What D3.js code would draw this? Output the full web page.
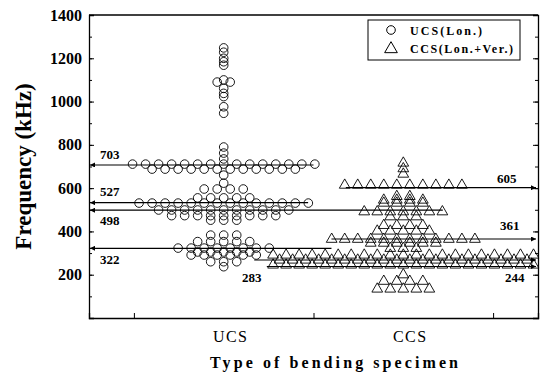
<!DOCTYPE html>
<html>
<head>
<meta charset="utf-8">
<script src="https://cdn.jsdelivr.net/npm/d3@7"></script>
<style>
  body { margin: 0; background: #fff; }
  svg { display: block; font-family: "Liberation Serif", "DejaVu Serif", serif; }
</style>
</head>
<body>
<svg id="chart" width="541" height="374"></svg>
<script>
// categories on the x axis (positions 1 and 2)
const categories = ["UCS", "CCS"]
const yTicks = [200, 400, 600, 800, 1000, 1200, 1400]

// UCS (circles): each row = frequency (kHz) and number of specimens in that row
const ucsFreq  = [1248, 1228, 1200, 1184, 1168, 1100, 1090, 1061, 1038, 1023, 976, 946,
                  790, 762, 735, 711, 688, 660, 623, 596, 555, 531, 499, 473, 452,
                  383, 353, 323, 305, 291, 260, 237]
const ucsCount = [1, 1, 1, 1, 1, 1, 2, 1, 1, 1, 1, 1,
                  1, 1, 1, 15, 12, 1, 1, 4, 5, 14, 11, 9, 3,
                  3, 5, 8, 5, 6, 3, 1]

// CCS (triangles)
const ccsFreq  = [716, 690, 665, 614, 562, 545, 531, 491, 468, 428, 402, 364, 346, 322,
                  291, 268, 245, 200, 170, 134]
const ccsCount = [1, 1, 1, 10, 2, 4, 4, 7, 3, 4, 5, 12, 6, 3,
                  21, 20, 21, 1, 4, 5]

// marked reference values (label, drawn level, start, end in category units)
const refLabels = ["703", "527", "498", "322", "283", "605", "361", "244"]
const refLevel  = [707, 533, 498, 322, 268, 602, 365, 238]
const refFrom   = [0.25, 0.25, 0.25, 0.25, 1.17, 1.68, 1.6, 1.24]
const refTo     = [1.5, 1.47, 2.22, 1.6, 2.75, 2.75, 2.75, 2.75]

const step = 0.0725   // horizontal gap between neighbours in a row (category units)

const svg = d3.select("#chart")
const width = 541, height = 374
const margin = {top: 15, right: 3, bottom: 56, left: 89}

let x = d3.scaleLinear()
    .domain([0.25, 2.75])
    .range([margin.left, width - margin.right])
let y = d3.scaleLinear()
    .domain([0, 1400])
    .range([height - margin.bottom, margin.top])

// expand rows to single points
function rowsToPoints(freqs, counts, center) {
    let pts = []
    freqs.forEach((f, r) => {
        let n = counts[r]
        for (let i = 0; i < n; i++) {
            pts.push({f: f, c: center + (i - (n - 1) / 2) * step})
        }
    })
    return pts
}
let ucsPts = rowsToPoints(ucsFreq, ucsCount, 1)
let ccsPts = rowsToPoints(ccsFreq, ccsCount, 2)

// arrow marker
let defs = svg.append("defs")
defs.append("marker")
    .attr("id", "arr")
    .attr("viewBox", "0 0 10 10")
    .attr("refX", 10).attr("refY", 5)
    .attr("markerWidth", 6).attr("markerHeight", 5)
    .attr("markerUnits", "userSpaceOnUse")
    .attr("orient", "auto")
    .append("path")
    .attr("d", "M0,0 L10,5 L0,10 Z")
    .attr("fill", "#000")

// axes
let yAxisL = d3.axisLeft(y).tickValues(yTicks).tickSize(-5).tickPadding(7).tickFormat(d3.format("d"))
let yMinor = d3.range(100, 1400, 100)
let gy = svg.append("g")
    .attr("transform", `translate(${margin.left},0)`)
    .call(yAxisL)
gy.selectAll(".tick text")
    .attr("font-size", 16).attr("font-weight", "bold")
    .attr("font-family", "Liberation Serif")
gy.select(".domain").attr("stroke-width", 1.3)

svg.append("g")
    .attr("transform", `translate(${margin.left},0)`)
    .call(d3.axisLeft(y).tickValues(yMinor).tickSize(-3).tickFormat(""))
    .call(g => g.select(".domain").remove())

svg.append("g")
    .attr("transform", `translate(${width - margin.right},0)`)
    .call(d3.axisRight(y).tickValues(yTicks).tickSize(-5).tickFormat(""))
    .call(g => g.select(".domain").attr("stroke-width", 1.3))
svg.append("g")
    .attr("transform", `translate(${width - margin.right},0)`)
    .call(d3.axisRight(y).tickValues(yMinor).tickSize(-3).tickFormat(""))
    .call(g => g.select(".domain").remove())

let gx = svg.append("g")
    .attr("transform", `translate(0,${height - margin.bottom})`)
    .call(d3.axisBottom(x).tickValues([0.5, 1.5, 2.5]).tickSize(-5).tickFormat(""))
gx.select(".domain").attr("stroke-width", 1.3)

// category labels
svg.append("g")
    .selectAll("text")
    .data(categories)
    .join("text")
    .attr("x", (d, i) => x(i + 1) + 7)
    .attr("y", height - margin.bottom + 24)
    .attr("text-anchor", "middle")
    .attr("font-size", 16)
    .attr("letter-spacing", 1.5)
    .text(d => d)

// top frame line
svg.append("line")
    .attr("x1", x(0.25)).attr("x2", x(2.75))
    .attr("y1", y(1400)).attr("y2", y(1400))
    .attr("stroke", "#000").attr("stroke-width", 1.3)

// reference lines with arrows
let refs = refLabels.map((l, i) => ({label: l, lvl: refLevel[i], from: refFrom[i], to: refTo[i], left: refFrom[i] <= 0.25}))
svg.append("g")
    .selectAll("line")
    .data(refs)
    .join("line")
    .attr("x1", d => d.left ? x(d.to) : x(d.from))
    .attr("x2", d => d.left ? x(d.from) + 1 : x(d.to) - 2)
    .attr("y1", d => y(d.lvl))
    .attr("y2", d => y(d.lvl))
    .attr("stroke", "#000")
    .attr("stroke-width", 1.2)
    .attr("marker-end", "url(#arr)")

// reference labels
let labelPos = {
    "703": [100, -6], "527": [100, -7], "498": [100, 15], "322": [100, 16],
    "283": [242, 22], "605": [497, -5], "361": [500, -9], "244": [505, 16]
}
svg.append("g")
    .attr("font-size", 13)
    .attr("font-weight", "bold")
    .selectAll("text")
    .data(refs)
    .join("text")
    .attr("x", d => labelPos[d.label][0])
    .attr("y", d => y(d.lvl) + labelPos[d.label][1])
    .text(d => d.label)

// UCS circles
svg.append("g")
    .selectAll("circle")
    .data(ucsPts)
    .join("circle")
    .attr("cx", d => x(d.c))
    .attr("cy", d => y(d.f))
    .attr("r", 4.3)
    .attr("fill", "none")
    .attr("stroke", "#000")
    .attr("stroke-width", 0.9)

// CCS triangles
let tri = d3.symbol(d3.symbolTriangle, 50)
svg.append("g")
    .selectAll("path")
    .data(ccsPts)
    .join("path")
    .attr("transform", d => `translate(${x(d.c)},${y(d.f)})`)
    .attr("d", tri)
    .attr("fill", "none")
    .attr("stroke", "#000")
    .attr("stroke-width", 0.9)

// axis titles
svg.append("text")
    .attr("transform", `translate(31,${(margin.top + height - margin.bottom) / 2}) rotate(-90)`)
    .attr("text-anchor", "middle")
    .attr("font-size", 23)
    .attr("font-weight", "bold")
    .text("Frequency (kHz)")

svg.append("text")
    .attr("x", 210)
    .attr("y", 368)
    .attr("font-size", 16)
    .attr("font-weight", "bold")
    .attr("textLength", 248)
    .attr("lengthAdjust", "spacing")
    .text("Type of bending specimen")

// legend
let leg = svg.append("g")
leg.append("rect")
    .attr("x", 368).attr("y", 20)
    .attr("width", 152).attr("height", 40)
    .attr("fill", "#fff").attr("stroke", "#000").attr("stroke-width", 1)
leg.append("circle")
    .attr("cx", 391).attr("cy", 30).attr("r", 4.3)
    .attr("fill", "none").attr("stroke", "#000")
leg.append("path")
    .attr("transform", "translate(391,49)")
    .attr("d", d3.symbol(d3.symbolTriangle, 70))
    .attr("fill", "none").attr("stroke", "#000")
leg.append("text")
    .attr("x", 410).attr("y", 35)
    .attr("font-size", 12).attr("font-weight", "bold")
    .attr("textLength", 72)
    .text("UCS(Lon.)")
leg.append("text")
    .attr("x", 410).attr("y", 53)
    .attr("font-size", 12).attr("font-weight", "bold")
    .attr("textLength", 103)
    .text("CCS(Lon.+Ver.)")
</script>
</body>
</html>
